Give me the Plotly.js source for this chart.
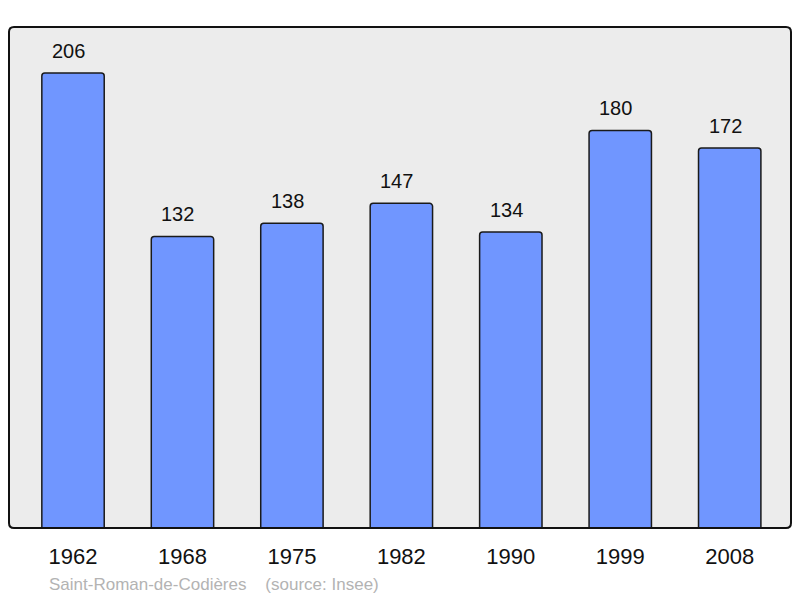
<!DOCTYPE html>
<html><head><meta charset="utf-8">
<script src="https://cdn.plot.ly/plotly-3.0.1.min.js"></script>
<style>html,body{margin:0;padding:0;background:#fff}#chart{width:800px;height:598px}</style>
</head><body><div id="chart"></div>
<script>
const years = ["1962","1968","1975","1982","1990","1999","2008"];
const population = [206,132,138,147,134,180,172];
const commune = "Saint-Roman-de-Codières";
const source = "(source: Insee)";

const W = 800, H = 598, mL = 9, mR = 9, mT = 27, mB = 70;
const pw = W - mL - mR, ph = H - mT - mB;
const rx = 5 / pw, ry = 5 / ph;
const border = `M ${rx},0 L ${1-rx},0 Q 1,0 1,${ry} L 1,${1-ry} Q 1,1 ${1-rx},1 L ${rx},1 Q 0,1 0,${1-ry} L 0,${ry} Q 0,0 ${rx},0 Z`;
const FONT = 'Liberation Sans, Arial, sans-serif';

const trace = {
  type: 'bar', x: years, y: population, width: 0.57,
  marker: {color: '#7096ff', line: {color: '#1a1a1a', width: 1.5}, cornerradius: 3},
  hoverinfo: 'none'
};
const annotations = years.map((yr, i) => ({
  x: i, y: population[i], xref: 'x', yref: 'y', text: String(population[i]),
  showarrow: false, yanchor: 'bottom', yshift: 9, xshift: -4.5,
  font: {family: FONT, size: 20, color: '#111'}
}));
annotations.push({
  xref: 'paper', yref: 'paper', x: (47 - mL) / pw, y: -(584 - 528) / ph,
  xanchor: 'left', yanchor: 'middle', showarrow: false,
  text: commune + '\u00a0\u00a0\u00a0\u00a0' + source,
  font: {family: FONT, size: 17, color: '#b3b3b3'}
});
const layout = {
  width: W, height: H, margin: {l: mL, r: mR, t: mT, b: mB},
  paper_bgcolor: '#fff', plot_bgcolor: '#ececec', showlegend: false,
  xaxis: {type: 'category', range: [-0.585, 6.56], showgrid: false, zeroline: false, showline: false,
    ticks: '', tickfont: {family: FONT, size: 22, color: '#111'}, ticklabelstandoff: 13},
  yaxis: {range: [0, 226.8], showgrid: false, zeroline: false, showline: false, showticklabels: false},
  annotations: annotations,
  shapes: [{type: 'path', xref: 'paper', yref: 'paper', path: border, line: {color: '#111', width: 2}, layer: 'above'}]
};
Plotly.newPlot('chart', [trace], layout, {staticPlot: true});
</script></body></html>
